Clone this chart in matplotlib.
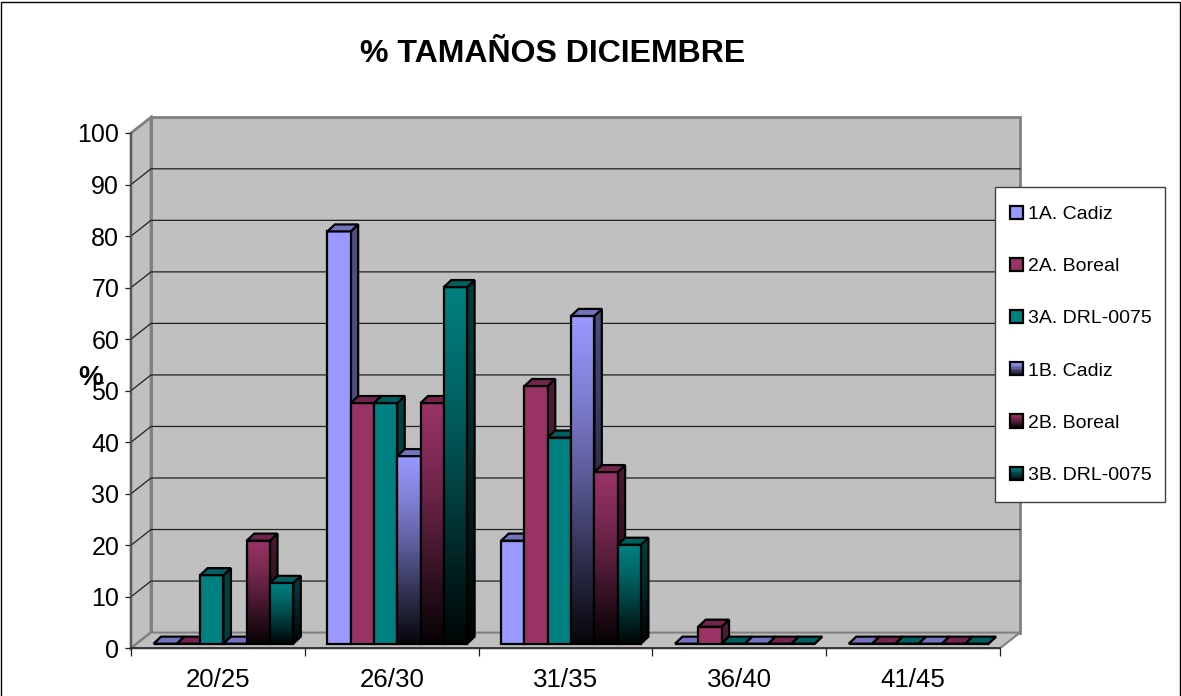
import numpy as np
import matplotlib
matplotlib.use('Agg')
import matplotlib.pyplot as plt
from matplotlib.colors import LinearSegmentedColormap
from matplotlib.legend_handler import HandlerBase
from matplotlib.patches import Patch, Polygon, Rectangle

plt.rcParams['font.family'] = ['Liberation Sans', 'DejaVu Sans']

# data
categories = ['20/25', '26/30', '31/35', '36/40', '41/45']
a1_cadiz = [0, 80, 20, 0, 0]
a2_boreal = [0, 46.7, 50, 3.3, 0]
a3_drl = [13.3, 46.7, 40, 0, 0]
b1_cadiz = [0, 36.4, 63.6, 0, 0]
b2_boreal = [20, 46.7, 33.3, 0, 0]
b3_drl = [11.8, 69.2, 19.2, 0, 0]

series = [('1A. Cadiz', a1_cadiz, '#9999FF', False),
          ('2A. Boreal', a2_boreal, '#993366', False),
          ('3A. DRL-0075', a3_drl, '#008080', False),
          ('1B. Cadiz', b1_cadiz, '#9999FF', True),
          ('2B. Boreal', b2_boreal, '#993366', True),
          ('3B. DRL-0075', b3_drl, '#008080', True)]

W, H = 1181, 696
# wall depth and bar depth, in data units
wallX, wallY = 0.115, 3.05
barX, barY = 0.043, 1.36
barW = 0.134
barStart = 0.13
floorY = 0.9
edgeW = 1.6


def shade(color, k):
    c = np.array(matplotlib.colors.to_rgb(color))
    return tuple(c * k)


def gradFace(ax, verts, color, z):
    """gradient from color (top) to almost black (bottom) clipped to a polygon"""
    verts = np.array(verts)
    stops = [(0, 0.04), (0.25, 0.3), (0.5, 0.58), (0.75, 0.82), (1, 1)]
    cmap = LinearSegmentedColormap.from_list('g', [(p, shade(color, k)) for p, k in stops])
    ext = [verts[:, 0].min(), verts[:, 0].max(), verts[:, 1].min(), verts[:, 1].max()]
    im = ax.imshow(np.linspace(1, 0, 128).reshape(-1, 1), extent=ext, cmap=cmap, vmin=0, vmax=1,
                   aspect='auto', interpolation='bilinear', zorder=z)
    clip = Polygon(verts, closed=True, transform=ax.transData, facecolor='none', edgecolor='none')
    im.set_clip_path(clip)


def face(ax, verts, color, z):
    ax.add_patch(Polygon(verts, closed=True, facecolor=color, edgecolor='black', linewidth=edgeW,
                         joinstyle='miter', zorder=z, clip_on=False))


def drawBar(ax, x, val, color, grad, z):
    y0 = floorY
    y1 = floorY + val
    front = [(x, y0), (x + barW, y0), (x + barW, y1), (x, y1)]
    side = [(x + barW, y0), (x + barW + barX, y0 + barY), (x + barW + barX, y1 + barY), (x + barW, y1)]
    top = [(x, y1), (x + barW, y1), (x + barW + barX, y1 + barY), (x + barX, y1 + barY)]
    if grad and val > 0:
        gradFace(ax, side, shade(color, 0.5), z)
        face(ax, side, 'none', z + 0.1)
        gradFace(ax, front, color, z + 0.2)
        ax.bar(x, val, barW, bottom=y0, align='edge', facecolor='none', edgecolor='black', linewidth=edgeW, zorder=z + 0.3)
    else:
        face(ax, side, shade(color, 0.5), z)
        ax.bar(x, val, barW, bottom=y0, align='edge', facecolor=color, edgecolor='black', linewidth=edgeW, zorder=z + 0.3)
    face(ax, top, shade(color, 0.75), z + 0.4)


class SwatchHandler(HandlerBase):
    """legend swatch, stacked strips when the series has a gradient"""
    def __init__(self, grad):
        super().__init__()
        self.grad = grad

    def create_artists(self, legend, orig, xd, yd, width, height, fontsize, trans):
        color = orig.get_facecolor()
        out = []
        n = 8 if self.grad else 1
        for i in range(n):
            k = 1 - i / n if self.grad else 1
            y = -yd + height * (1 - (i + 1) / n)
            out.append(Rectangle((-xd, y), width, height / n, facecolor=shade(color[:3], max(k, 0.05)),
                                 edgecolor='none', transform=trans))
        out.append(Rectangle((-xd, -yd), width, height, facecolor='none', edgecolor='black',
                             linewidth=1.6, transform=trans))
        return out


fig = plt.figure(figsize=(W / 100, H / 100), dpi=100, facecolor='white')
fig.add_artist(Rectangle((1.5 / W, -0.01), (W - 3) / W, 1 - 1.5 / H + 0.01, transform=fig.transFigure,
                         facecolor='none', edgecolor='black', linewidth=1))

left, right, top, bottom = 131, 1000, 133, 648.3
ax = fig.add_axes([left / W, 1 - bottom / H, (right - left) / W, (bottom - top) / H])
ax.set_facecolor('none')
n = len(categories)

# walls and floor
wallC = '#C0C0C0'
edgeC = '#808080'
ax.add_patch(Polygon([(wallX, wallY), (n + wallX, wallY), (n + wallX, 100 + wallY), (wallX, 100 + wallY)],
                     facecolor=wallC, edgecolor=edgeC, linewidth=2, clip_on=False, zorder=1))
ax.add_patch(Polygon([(0, 0), (wallX, wallY), (wallX, 100 + wallY), (0, 100)],
                     facecolor=wallC, edgecolor=edgeC, linewidth=2, clip_on=False, zorder=1))
ax.add_patch(Polygon([(0, 0), (n, 0), (n + wallX, wallY), (wallX, wallY)],
                     facecolor=wallC, edgecolor=edgeC, linewidth=1.5, clip_on=False, zorder=1))

yticks = np.arange(0, 101, 10)
for v in yticks[1:-1]:
    ax.plot([0, wallX, n + wallX], [v, v + wallY, v + wallY], color='#202020', linewidth=0.9,
            clip_on=False, zorder=2)

# bars, left to right so each one covers the side of the previous
z = 3
for i in range(n):
    for j, (label, vals, color, grad) in enumerate(series):
        drawBar(ax, i + barStart + j * barW, vals[i], color, grad, z)
        z += 1

ax.set_xlim(0, n)
ax.set_ylim(0, 100)
for s in ['top', 'right']:
    ax.spines[s].set_visible(False)
ax.spines['left'].set_color('#505050')
ax.spines['left'].set_linewidth(1.1)
ax.spines['bottom'].set_color('#202020')
ax.spines['bottom'].set_linewidth(1.1)
for s in ax.spines.values():
    s.set_zorder(200)
ax.set_yticks(yticks)
ax.tick_params(axis='y', length=4.5, width=0.9, labelsize=18, pad=4, color='#202020')
ax.set_xticks(np.arange(n + 1))
ax.set_xticklabels([])
ax.tick_params(axis='x', which='major', length=6, width=0.9, color='#202020')
ax.set_xticks(np.arange(n) + 0.5, minor=True)
ax.set_xticklabels(categories, minor=True, fontsize=18.6)
ax.tick_params(axis='x', which='minor', length=0, pad=14)

ax.set_ylabel('%', rotation=0, fontsize=20, fontweight='bold', va='center', ha='center')
ax.yaxis.set_label_coords((91 - left) / (right - left), (bottom - 378) / (bottom - top))

fig.text(553 / W, 1 - 54 / H, '% TAMAÑOS DICIEMBRE', fontsize=23, fontweight='bold', ha='center', va='center')

# legend box is drawn on its own, its padding differs per side
fig.add_artist(Rectangle((994.5 / W, 1 - 502 / H), 170.5 / W, 315 / H, transform=fig.transFigure,
                         facecolor='white', edgecolor='#404040', linewidth=1, zorder=5))
handles = [Patch(facecolor=c, label=l) for l, v, c, g in series]
hmap = {h: SwatchHandler(s[3]) for h, s in zip(handles, series)}
leg = fig.legend(handles=handles, handler_map=hmap, loc='upper left', bbox_to_anchor=(1010 / W, 1 - 205.5 / H),
                 bbox_transform=fig.transFigure, borderaxespad=0, fontsize=14, labelspacing=1.79,
                 handlelength=0.67, handleheight=0.67, handletextpad=0.28, borderpad=0,
                 frameon=False)
leg.set_zorder(6)

fig.savefig('out.png', dpi=100)
